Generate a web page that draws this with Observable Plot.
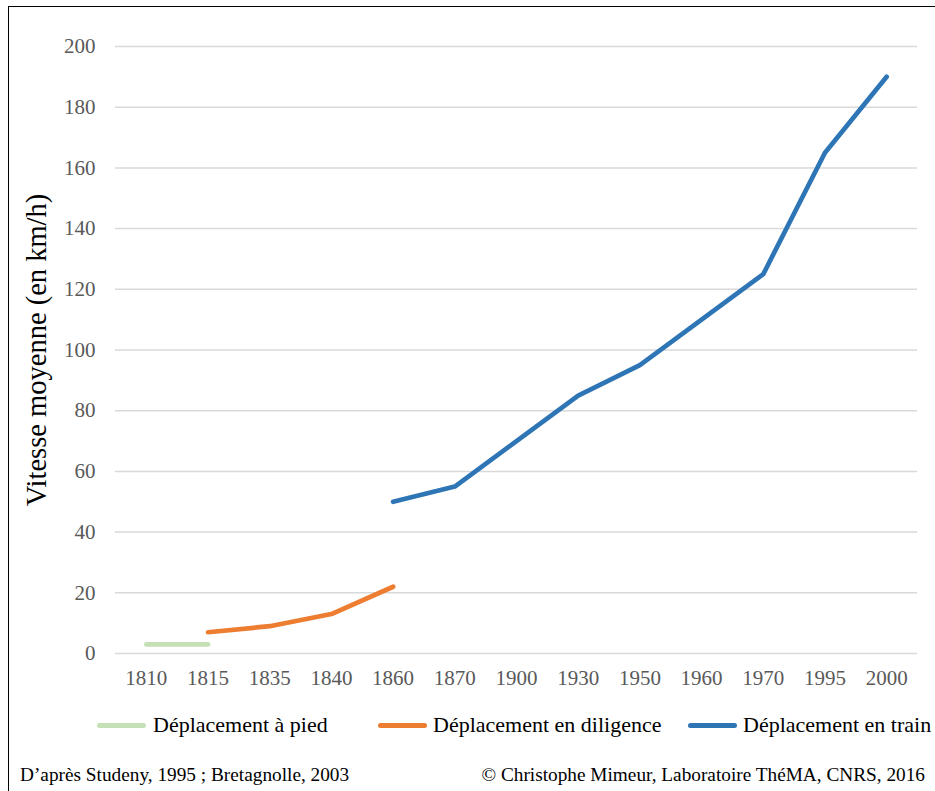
<!DOCTYPE html>
<html>
<head>
<meta charset="utf-8">
<script src="https://cdn.jsdelivr.net/npm/d3@7"></script>
<script src="https://cdn.jsdelivr.net/npm/@observablehq/plot@0.6"></script>
<style>
  html, body { margin: 0; padding: 0; background: #fff; }
  #wrap { position: relative; width: 935px; height: 791px; overflow: hidden; font-family: "Liberation Serif", "Times New Roman", serif; }
  #frame { position: absolute; left: 8px; top: 6px; width: 1000px; height: 1000px; border-left: 1.5px solid #000; border-top: 1.5px solid #000; }
  #chart { position: absolute; left: 0; top: 0; }
  .leg { position: absolute; top: 711px; font-size: 22px; color: #000; white-space: nowrap; line-height: 28px; }
  .sw { position: absolute; top: 12px; width: 49px; height: 5px; border-radius: 3px; }
  .foot { position: absolute; top: 763px; font-size: 19.3px; color: #000; white-space: nowrap; line-height: 24px; }
</style>
</head>
<body>
<div id="wrap">
  <div id="frame"></div>
  <div id="chart"></div>
  <div id="legend"></div>
  <div class="foot" style="left:20px;">D’après Studeny, 1995 ; Bretagnolle, 2003</div>
  <div class="foot" style="right:10px;">© Christophe Mimeur, Laboratoire ThéMA, CNRS, 2016</div>
</div>
<script>
const years = ["1810","1815","1835","1840","1860","1870","1900","1930","1950","1960","1970","1995","2000"];
const yTicks = [0,20,40,60,80,100,120,140,160,180,200];

const piedYears = ["1810","1815"];
const piedValues = [3, 3];
const diligenceYears = ["1815","1835","1840","1860"];
const diligenceValues = [7, 9, 13, 22];
const trainYears = ["1860","1870","1900","1930","1950","1960","1970","1995","2000"];
const trainValues = [50, 55, 70, 85, 95, 110, 125, 165, 190];

const seriesNames = ["Déplacement à pied", "Déplacement en diligence", "Déplacement en train"];
const seriesColors = ["#c5e0b4", "#ed7d31", "#2e75b6"];
const yLabel = "Vitesse moyenne (en km/h)";

const rows = [];
piedYears.forEach((y, i) => rows.push({year: y, value: piedValues[i], series: seriesNames[0]}));
diligenceYears.forEach((y, i) => rows.push({year: y, value: diligenceValues[i], series: seriesNames[1]}));
trainYears.forEach((y, i) => rows.push({year: y, value: trainValues[i], series: seriesNames[2]}));

const chart = Plot.plot({
  width: 935,
  height: 700,
  marginLeft: 115,
  marginRight: 18,
  marginTop: 46,
  marginBottom: 47,
  style: {fontFamily: "'Liberation Serif', 'Times New Roman', serif", fontSize: "21px", color: "#595959", background: "transparent"},
  x: {type: "point", domain: years, padding: 0.5, round: false, label: null},
  y: {domain: [0, 200], label: null},
  color: {domain: seriesNames, range: seriesColors},
  marks: [
    Plot.gridY(yTicks, {stroke: "#d9d9d9", strokeOpacity: 1, strokeWidth: 1.5}),
    Plot.axisY(yTicks, {tickSize: 0, tickPadding: 20, label: null, fill: "#595959"}),
    Plot.axisX({tickSize: 0, tickPadding: 17, label: null, fill: "#595959"}),
    Plot.text([yLabel], {frameAnchor: "left", textAnchor: "middle", rotate: -90, dx: -79, fontSize: 28.5, fill: "#000", text: d => d}),
    Plot.line(rows, {x: "year", y: "value", z: "series", stroke: "series", strokeWidth: 4.7, strokeLinecap: "round", strokeLinejoin: "round"})
  ]
});
document.getElementById("chart").appendChild(chart);

const legendPos = [{sw: 97, tx: 153}, {sw: 378, tx: 433}, {sw: 688, tx: 743}];
const legend = document.getElementById("legend");
seriesNames.forEach((name, i) => {
  const sw = document.createElement("div");
  sw.className = "leg";
  sw.style.left = legendPos[i].sw + "px";
  sw.innerHTML = `<div class="sw" style="left:0;background:${seriesColors[i]}"></div>`;
  legend.appendChild(sw);
  const t = document.createElement("div");
  t.className = "leg";
  t.style.left = legendPos[i].tx + "px";
  t.textContent = name;
  legend.appendChild(t);
});
</script>
</body>
</html>
